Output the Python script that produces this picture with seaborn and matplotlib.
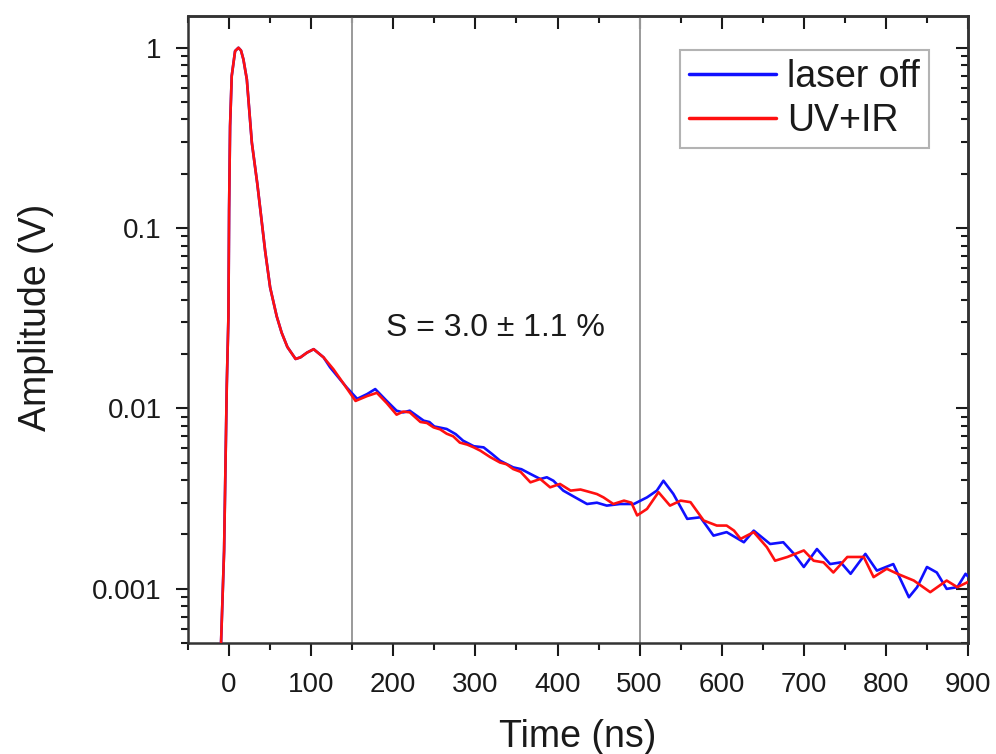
import matplotlib
matplotlib.use("Agg")
import matplotlib.pyplot as plt
import matplotlib.ticker as mticker
import seaborn as sns
import pandas as pd

# ---- data ----
t_uvir = [-12, -9.8, -6.1, -2.8, -0.8, 0, 1.2, 3.2, 7.3, 11.4, 14.5, 17.4, 21.6, 27.7, 34.5,
          44, 50, 58, 64, 71, 81, 87, 95, 103, 115, 127, 139, 154, 168, 180, 192, 204,
          212, 220, 233, 241, 249, 257, 265, 273, 281, 290, 298, 306, 318, 330, 338, 346,
          355, 367, 379, 385, 391, 403, 416, 428, 440, 448, 456, 468, 481, 490, 497, 509,
          523, 537, 550, 562, 578, 594, 606, 615, 623, 639, 655, 665, 680, 700, 712, 724,
          736, 753, 773, 785, 801, 814, 834, 854, 874, 887, 900]
a_uvir = [0.000398, 0.000501, 0.00162, 0.0136, 0.0324, 0.127, 0.368, 0.697, 0.959, 1.0,
          0.965, 0.863, 0.668, 0.298, 0.174, 0.0741, 0.0468, 0.0324, 0.0263, 0.0219,
          0.0188, 0.0192, 0.0204, 0.0213, 0.0192, 0.0165, 0.0138, 0.0110, 0.0117,
          0.0122, 0.0107, 0.00923, 0.00960, 0.00951, 0.00841, 0.00830, 0.00785,
          0.00765, 0.00724, 0.00700, 0.00646, 0.00630, 0.00608, 0.00583, 0.00537,
          0.00501, 0.00490, 0.00461, 0.00445, 0.00389, 0.00406, 0.00385, 0.00365,
          0.00381, 0.00350, 0.00355, 0.00343, 0.00335, 0.00321, 0.00295, 0.00308,
          0.00300, 0.00255, 0.00277, 0.00343, 0.00289, 0.00308, 0.00302, 0.00239,
          0.00224, 0.00224, 0.00210, 0.00189, 0.00206, 0.00170, 0.00143, 0.00150,
          0.00163, 0.00143, 0.00140, 0.00123, 0.00150, 0.00150, 0.00116, 0.00129,
          0.00121, 0.00111, 0.000957, 0.00111, 0.00102, 0.00109]

t_off = [-12, -9.8, -6.1, -2.8, -0.8, 0, 1.2, 3.2, 7.3, 11.4, 14.5, 17.4, 21.6, 27.7, 34.5,
         44, 50, 58, 64, 71, 81, 87, 95, 103, 115, 123, 143, 156, 168, 178, 192, 204,
         212, 220, 237, 244, 250, 265, 276, 285, 298, 310, 320, 330, 346, 356, 367, 379,
         387, 395, 407, 420, 436, 448, 460, 476, 493, 509, 521, 529, 541, 558, 574, 590,
         606, 627, 639, 659, 675, 688, 700, 716, 732, 745, 757, 775, 789, 809, 828, 838,
         850, 862, 874, 887, 897, 900]
a_off = [0.000398, 0.000501, 0.00162, 0.0136, 0.0324, 0.127, 0.368, 0.697, 0.959, 1.0,
         0.965, 0.863, 0.668, 0.298, 0.174, 0.0741, 0.0468, 0.0324, 0.0263, 0.0219,
         0.0188, 0.0192, 0.0204, 0.0213, 0.0192, 0.0169, 0.0131, 0.0113, 0.0120,
         0.0128, 0.0110, 0.00971, 0.00950, 0.00971, 0.00855, 0.00840, 0.00794,
         0.00769, 0.00720, 0.00662, 0.00617, 0.00608, 0.00560, 0.00513, 0.00471,
         0.00460, 0.00433, 0.00406, 0.00415, 0.00397, 0.00350, 0.00324, 0.00295,
         0.00300, 0.00289, 0.00295, 0.00295, 0.00321, 0.00350, 0.00397, 0.00336,
         0.00244, 0.00249, 0.00197, 0.00206, 0.00181, 0.00210, 0.00177, 0.00181,
         0.00156, 0.00132, 0.00166, 0.00137, 0.00140, 0.00121, 0.00156, 0.00126,
         0.00137, 0.000897, 0.00102, 0.00132, 0.00123, 0.000998, 0.00102, 0.00121,
         0.00117]

series_names = ["laser off", "UV+IR"]
x_ticks = [0, 100, 200, 300, 400, 500, 600, 700, 800, 900]
y_ticks = [0.001, 0.01, 0.1, 1]
y_ticklabels = ["0.001", "0.01", "0.1", "1"]
vlines = [150, 500]
annotation = "S = 3.0 \u00b1 1.1 %"

df = pd.concat([
    pd.DataFrame({"Time": t_off, "Amp": a_off, "series": series_names[0]}),
    pd.DataFrame({"Time": t_uvir, "Amp": a_uvir, "series": series_names[1]}),
], ignore_index=True)

sns.set_theme(style="ticks")
plt.rcParams["font.family"] = ["Liberation Sans", "DejaVu Sans"]
plt.rcParams["text.color"] = "#1a1a1a"
plt.rcParams["axes.labelcolor"] = "#1a1a1a"
plt.rcParams["xtick.color"] = "#1a1a1a"
plt.rcParams["ytick.color"] = "#1a1a1a"

fig = plt.figure(figsize=(9.96, 7.54), dpi=100)
ax = fig.add_axes([0.1888, 0.1472, 0.7831, 0.8316])

for v in vlines:
    ax.axvline(v, color="#9a9a9a", lw=1.4, zorder=1)

sns.lineplot(data=df, x="Time", y="Amp", hue="series", sort=False, estimator=None,
             palette={"laser off": "#1010ff", "UV+IR": "#ff1010"}, lw=1.9, ax=ax,
             zorder=3)

ax.set_yscale("log")
ax.set_xlim(-50, 900)
ax.set_ylim(5e-4, 1.5)

ax.xaxis.set_major_locator(mticker.FixedLocator(x_ticks))
ax.xaxis.set_minor_locator(mticker.MultipleLocator(50))
ax.yaxis.set_major_locator(mticker.FixedLocator(y_ticks))
ax.yaxis.set_major_formatter(mticker.FixedFormatter(y_ticklabels))
ax.yaxis.set_minor_locator(mticker.LogLocator(base=10, subs=range(2, 10), numticks=20))
ax.yaxis.set_minor_formatter(mticker.NullFormatter())

ax.tick_params(which="major", direction="out", length=9, width=1.5, labelsize=20, pad=10)
ax.tick_params(which="minor", direction="out", length=5, width=1.5)
ax.tick_params(axis="x", which="major", pad=12)

for sp in ax.spines.values():
    sp.set_linewidth(1.8)
    sp.set_color("#333333")

# inward ticks on top and right
top = ax.secondary_xaxis("top")
top.xaxis.set_major_locator(mticker.FixedLocator(x_ticks))
top.xaxis.set_minor_locator(mticker.MultipleLocator(50))
top.tick_params(which="major", direction="in", length=9, width=1.5, labeltop=False)
top.tick_params(which="minor", direction="in", length=5, width=1.5)
top.spines["top"].set_linewidth(1.8)
top.spines["top"].set_color("#333333")

right = ax.secondary_yaxis("right")
right.yaxis.set_major_locator(mticker.FixedLocator(y_ticks))
right.yaxis.set_minor_locator(mticker.LogLocator(base=10, subs=range(2, 10), numticks=20))
right.yaxis.set_minor_formatter(mticker.NullFormatter())
right.tick_params(which="major", direction="in", length=9, width=1.5, labelright=False)
right.tick_params(which="minor", direction="in", length=5, width=1.5)
right.spines["right"].set_linewidth(1.8)
right.spines["right"].set_color("#333333")

ax.set_xlabel("Time (ns)", fontsize=27, labelpad=15)
ax.set_ylabel("Amplitude (V)", fontsize=27)
ax.yaxis.set_label_coords(-0.172, 0.52)

ax.text(324, 0.028, annotation, fontsize=23, ha="center", va="center")

leg = ax.legend(loc="upper right", bbox_to_anchor=(0.950, 0.946), borderaxespad=0,
                fontsize=27, handlelength=2.3, handletextpad=0.3, labelspacing=0.2,
                borderpad=0.25, frameon=True, fancybox=False, title=None)
leg.get_frame().set_edgecolor("#a0a0a0")
leg.get_frame().set_linewidth(1.5)
for line in leg.get_lines():
    line.set_linewidth(2.5)

fig.savefig("out.png", dpi=100)
